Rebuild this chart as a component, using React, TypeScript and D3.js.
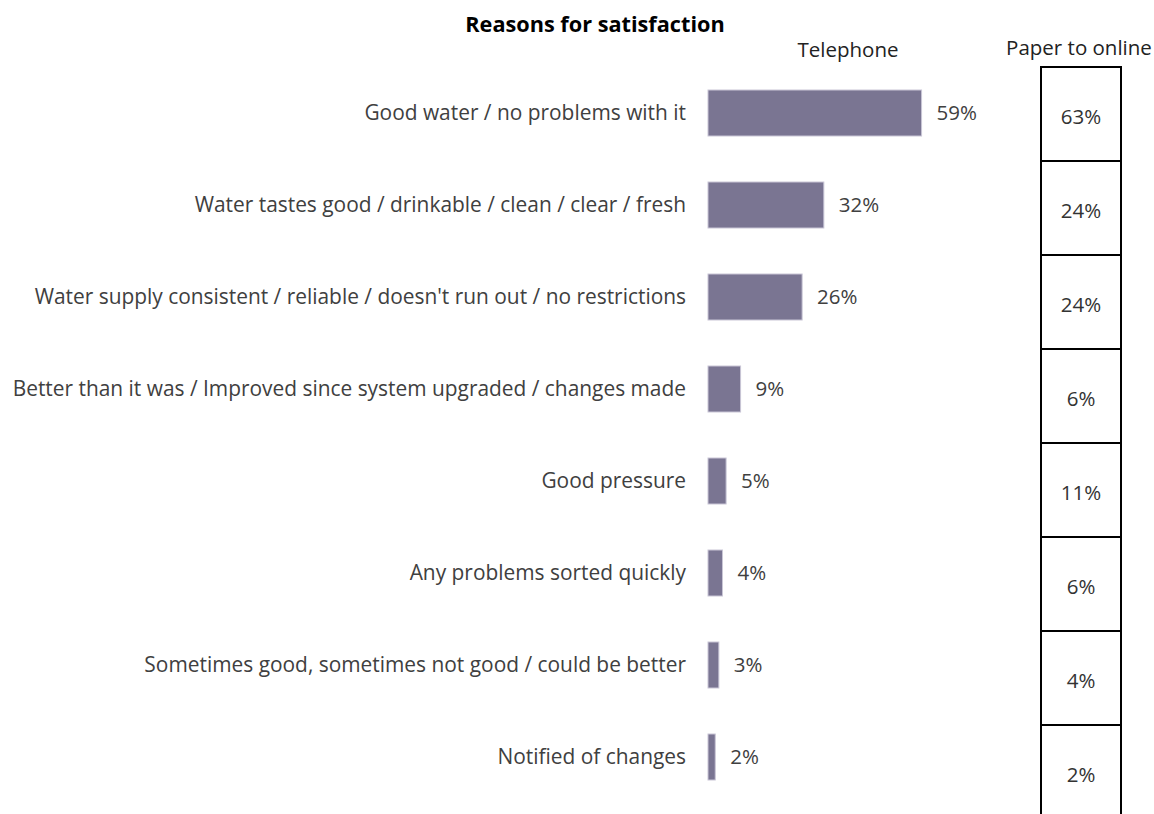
import React from "react";
import * as d3 from "d3";

const categories = [
  "Good water / no problems with it",
  "Water tastes good / drinkable / clean / clear / fresh",
  "Water supply consistent / reliable / doesn't run out / no restrictions",
  "Better than it was / Improved since system upgraded / changes made",
  "Good pressure",
  "Any problems sorted quickly",
  "Sometimes good, sometimes not good / could be better",
  "Notified of changes",
];
const telephone = [59, 32, 26, 9, 5, 4, 3, 2];
const paperToOnline = [63, 24, 24, 6, 11, 6, 4, 2];

const W = 1154;
const H = 814;
const FONT = "'Open Sans', Lato, sans-serif";

export default function App() {
  const x = d3.scaleLinear().domain([0, 100]).range([708, 708 + 362]);
  const y = d3
    .scaleBand<string>()
    .domain(categories)
    .range([67, 803])
    .paddingInner(0.5)
    .paddingOuter(0.25);
  const rows = d3.scaleBand<string>().domain(categories).range([67, 819]);
  const tx0 = 1041;
  const tx1 = 1121;

  return (
    <svg
      width={W}
      height={H}
      style={{ position: "absolute", left: 0, top: 0, background: "#fff" }}
      fontFamily={FONT}
    >
      <text x={595} y={32} textAnchor="middle" fontSize={21.7} fontWeight="bold" fill="#000">
        Reasons for satisfaction
      </text>
      <text x={848} y={57} textAnchor="middle" fontSize={20.5} fill="#222">
        Telephone
      </text>
      <text x={1079} y={55} textAnchor="middle" fontSize={20.5} fill="#222">
        Paper to online
      </text>
      {categories.map((c, i) => {
        const by = y(c)!;
        const cy = by + y.bandwidth() / 2;
        return (
          <g key={c}>
            <text x={686} y={cy} dy="0.35em" textAnchor="end" fontSize={20.9} fill="#404040">
              {c}
            </text>
            <rect
              x={x(0)}
              y={by}
              width={x(telephone[i]) - x(0)}
              height={y.bandwidth()}
              fill="#7a7592"
              stroke="#c9c6d6"
              strokeWidth={1}
            />
            <text x={x(telephone[i]) + 15} y={cy} dy="0.35em" fontSize={20.5} fill="#404040">
              {telephone[i]}%
            </text>
          </g>
        );
      })}
      {categories.map((c, i) => {
        const ry = rows(c)!;
        return (
          <g key={"t" + c}>
            <text
              x={(tx0 + tx1) / 2}
              y={ry + rows.bandwidth() / 2 + 3}
              dy="0.35em"
              textAnchor="middle"
              fontSize={20.5}
              fill="#333"
            >
              {paperToOnline[i]}%
            </text>
            <line x1={tx0} x2={tx1} y1={ry} y2={ry} stroke="#000" strokeWidth={2} />
          </g>
        );
      })}
      <line x1={tx0} x2={tx0} y1={66} y2={H + 10} stroke="#000" strokeWidth={2} />
      <line x1={tx1} x2={tx1} y1={66} y2={H + 10} stroke="#000" strokeWidth={2} />
    </svg>
  );
}
